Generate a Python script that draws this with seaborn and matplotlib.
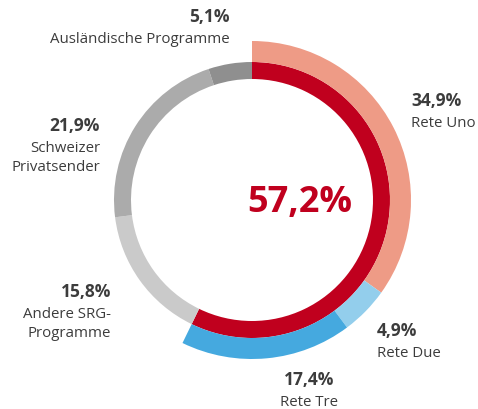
import matplotlib
matplotlib.use("Agg")
import matplotlib.pyplot as plt
import seaborn as sns

sns.set_theme(style="white")
plt.rcParams['font.family'] = ['Open Sans', 'DejaVu Sans']

# Daten
sender = ['Rete Uno', 'Rete Due', 'Rete Tre', 'Andere SRG-\nProgramme',
          'Schweizer\nPrivatsender', 'Ausländische Programme']
anteile = [34.9, 4.9, 17.4, 15.8, 21.9, 5.1]
anteil_labels = ['34,9%', '4,9%', '17,4%', '15,8%', '21,9%', '5,1%']
rsi_total = 57.2
rsi_label = '57,2%'

farben_aussen = ['#EE9B86', '#93CEEC', '#45A9DF']
farben_grau = ['#CACACA', '#ABABAB', '#8F8F8F']
rot = '#C0001E'
textfarbe = '#3C3C3C'

W, H = 478, 410
fig = plt.figure(figsize=(W / 100, H / 100), dpi=100)
ax = fig.add_axes([0, 0, 1, 1])

cx, cy = 252, H - 201
r_in, r_mid, r_out = 121, 138, 159

# innerer Ring: rot für RSI gesamt, danach grau für die anderen
ax.pie([rsi_total] + anteile[3:], colors=[rot] + farben_grau,
       startangle=90, counterclock=False, radius=r_mid, center=(cx, cy),
       wedgeprops=dict(width=r_mid - r_in, linewidth=0), frame=True)
# äusserer Ring: die drei RSI-Sender
ax.pie(anteile[:3] + [100 - rsi_total], colors=farben_aussen + ['none'],
       startangle=90, counterclock=False, radius=r_out, center=(cx, cy),
       wedgeprops=dict(width=r_out - r_mid, linewidth=0), frame=True)
ax.set_xlim(0, W)
ax.set_ylim(0, H)
ax.set_aspect('equal')
ax.axis('off')

ax.text(300, H - 203, rsi_label, color=rot, fontsize=26, fontweight='bold',
        ha='center', va='center')

# Beschriftungen (x, y, Ausrichtung)
pos = [(411, 101, 'left'), (377, 331, 'left'), (309, 380, 'center'),
       (111, 292, 'right'), (100, 126, 'right'), (230, 17, 'right')]
for (x, y, ha), p, name in zip(pos, anteil_labels, sender):
    ax.text(x, H - y, p, fontsize=12.5, fontweight='bold', color=textfarbe,
            ha=ha, va='center')
    ax.text(x, H - y - 15, name, fontsize=10.8, color=textfarbe,
            ha=ha, va='top', linespacing=1.35, multialignment=ha)

fig.savefig('out.png', dpi=100)
